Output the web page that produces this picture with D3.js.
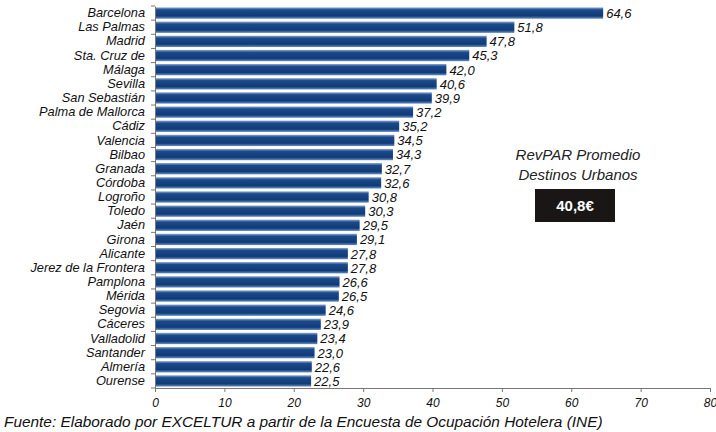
<!DOCTYPE html>
<html>
<head>
<meta charset="utf-8">
<script src="https://cdn.jsdelivr.net/npm/d3@7"></script>
<style>
  body { margin: 0; background: #fff; }
  text { font-family: "Liberation Sans", Arial, sans-serif; font-style: italic; }
</style>
</head>
<body>
<div id="chart"></div>
<script>
// Data
const cities = ["Barcelona", "Las Palmas", "Madrid", "Sta. Cruz de", "Málaga", "Sevilla",
  "San Sebastián", "Palma de Mallorca", "Cádiz", "Valencia", "Bilbao", "Granada", "Córdoba",
  "Logroño", "Toledo", "Jaén", "Girona", "Alicante", "Jerez de la Frontera", "Pamplona",
  "Mérida", "Segovia", "Cáceres", "Valladolid", "Santander", "Almería", "Ourense"];
const revpar = [64.6, 51.8, 47.8, 45.3, 42.0, 40.6, 39.9, 37.2, 35.2, 34.5, 34.3, 32.7, 32.6,
  30.8, 30.3, 29.5, 29.1, 27.8, 27.8, 26.6, 26.5, 24.6, 23.9, 23.4, 23.0, 22.6, 22.5];
const xTicks = [0, 10, 20, 30, 40, 50, 60, 70, 80];
const avgLabel = ["RevPAR Promedio", "Destinos Urbanos"];
const avgValue = "40,8€";
const source = "Fuente: Elaborado por EXCELTUR a partir de la Encuesta de Ocupación Hotelera (INE)";

const width = 716, height = 432;
const fmt = v => v.toFixed(1).replace(".", ",");

const svg = d3.select("#chart").append("svg")
  .attr("width", width)
  .attr("height", height);

// bar gradient (Excel style shading)
const grad = svg.append("defs").append("linearGradient")
  .attr("id", "barGrad")
  .attr("x1", 0).attr("y1", 0).attr("x2", 0).attr("y2", 1);
grad.append("stop").attr("offset", "0%").attr("stop-color", "#8aa8d2");
grad.append("stop").attr("offset", "22%").attr("stop-color", "#1c4989");
grad.append("stop").attr("offset", "75%").attr("stop-color", "#103b79");
grad.append("stop").attr("offset", "100%").attr("stop-color", "#6a8fc2");

const x = d3.scaleLinear().domain([0, 80]).range([155, 710]);
const y = d3.scaleBand().domain(cities).range([6, 388]).paddingInner(0.2).paddingOuter(0.1);

// Bars
svg.selectAll(".bar")
  .data(cities)
  .enter()
  .append("rect")
  .attr("class", "bar")
  .attr("x", x(0))
  .attr("y", d => y(d))
  .attr("width", (d, i) => x(revpar[i]) - x(0))
  .attr("height", y.bandwidth())
  .attr("fill", "url(#barGrad)");

// Value labels
svg.selectAll(".val")
  .data(cities)
  .enter()
  .append("text")
  .attr("x", (d, i) => x(revpar[i]) + 3)
  .attr("y", d => y(d) + y.bandwidth() / 2)
  .attr("dy", "0.38em")
  .style("font-size", "13px")
  .style("fill", "#111")
  .text((d, i) => fmt(revpar[i]));

// Y axis
const yAxis = svg.append("g")
  .attr("transform", `translate(${x(0)},0)`)
  .call(d3.axisLeft(y).tickSize(0).tickPadding(10));
yAxis.select(".domain").attr("stroke", "#777");
yAxis.selectAll("text")
  .attr("font-style", "italic")
  .style("font-size", "12.8px")
  .style("fill", "#111")
  .style("font-family", "'Liberation Sans', Arial, sans-serif");

// category separator ticks
svg.selectAll(".ytick")
  .data(d3.range(cities.length + 1))
  .enter()
  .append("line")
  .attr("x1", x(0) - 4)
  .attr("x2", x(0))
  .attr("y1", i => 6 + i * (382 / cities.length))
  .attr("y2", i => 6 + i * (382 / cities.length))
  .attr("stroke", "#777");

// X axis
const xAxis = svg.append("g")
  .attr("transform", "translate(0,388)")
  .call(d3.axisBottom(x).tickValues(xTicks).tickSize(4).tickPadding(6).tickSizeOuter(0));
xAxis.select(".domain").attr("stroke", "#777");
xAxis.selectAll("line").attr("stroke", "#777");
xAxis.selectAll("text")
  .attr("font-style", "italic")
  .style("font-size", "12px")
  .style("fill", "#111")
  .style("font-family", "'Liberation Sans', Arial, sans-serif");

// Average annotation
svg.selectAll(".avg")
  .data(avgLabel)
  .enter()
  .append("text")
  .attr("x", 578)
  .attr("y", (d, i) => 160 + i * 20)
  .attr("text-anchor", "middle")
  .style("font-size", "15px")
  .style("fill", "#222")
  .text(d => d);

svg.append("rect")
  .attr("x", 535)
  .attr("y", 189)
  .attr("width", 80)
  .attr("height", 33)
  .attr("fill", "#1a1616");

svg.append("text")
  .attr("x", 575)
  .attr("y", 206)
  .attr("dy", "0.36em")
  .attr("text-anchor", "middle")
  .style("font-size", "15px")
  .style("font-style", "normal")
  .style("font-weight", "bold")
  .style("fill", "#fff")
  .text(avgValue);

// Source note
svg.append("text")
  .attr("x", 4)
  .attr("y", 427)
  .style("font-size", "15.4px")
  .style("fill", "#111")
  .text(source);
</script>
</body>
</html>
